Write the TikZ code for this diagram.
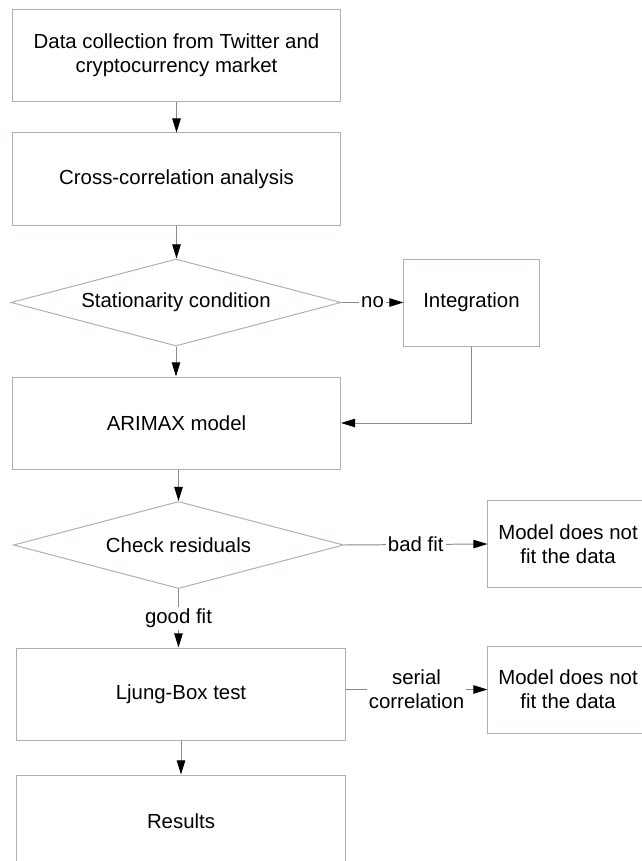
\documentclass[tikz,border=0pt]{standalone}
\usepackage{fontspec}
\setmainfont{Liberation Sans}
\usetikzlibrary{shapes.geometric,arrows.meta}

\definecolor{boxline}{RGB}{168,178,175}
\definecolor{arrline}{RGB}{135,138,137}

\tikzset{
  stepbox/.style={draw=boxline, line width=0.7pt, align=center, inner sep=0pt,
    minimum width=8.2cm, minimum height=2.3cm},
  sidebox/.style={stepbox, minimum width=4cm, minimum height=2.175cm},
  decision/.style={diamond, aspect=3.8, draw=boxline, line width=0.7pt, inner sep=0pt,
    minimum width=8.25cm, minimum height=2.175cm},
  flow/.style={draw=arrline, line width=0.7pt,
    -{Triangle[length=10pt,width=6pt,color=black]}},
  lbl/.style={fill=white, inner sep=1.5pt, align=center}
}

\begin{document}
\begin{tikzpicture}[x=0.025cm, y=-0.025cm,
    every node/.style={font=\fontsize{14.5}{17}\selectfont}]
  \useasboundingbox (0,0) rectangle (641,861);

  % main column
  \node[stepbox] (collect) at (176.5,55.5) {Data collection from Twitter and\\cryptocurrency market};
  \node[stepbox] (xcorr) at (176.5,179) {Cross-correlation analysis};
  \node[decision] (station) at (176,302.5) {Stationarity condition};
  \node[stepbox] (arimax) at (176.5,423) {ARIMAX model};
  \node[decision] (resid) at (178.5,545) {Check residuals};
  \node[stepbox] (ljung) at (181,694) {Ljung-Box test};
  \node[stepbox] (results) at (181,821) {Results};

  % side boxes
  \node[sidebox, minimum width=3.375cm] (integ) at (471.5,302.5) {Integration};
  \node[sidebox] (badfit) at (568,544) {Model does not\\fit the data};
  \node[sidebox] (sercorr) at (568,689.5) {Model does not\\fit the data};

  \draw[flow] (collect) -- (xcorr);
  \draw[flow] (xcorr.south) -- (xcorr.south |- station.north);
  \draw[flow] (station.east) -- node[lbl]{no} (integ.west);
  \draw[flow] (integ.south) |- (arimax.east);
  \draw[flow] (station.south) -- (station.south |- arimax.north);
  \draw[flow] (resid.north |- arimax.south) -- (resid.north);
  \draw[flow] (resid.east) -- node[lbl]{bad fit} (badfit.west);
  \draw[flow] (resid.south) -- node[lbl]{good fit} (resid.south |- ljung.north);
  \draw[flow] (ljung.east |- sercorr.west) -- node[lbl]{serial\\correlation} (sercorr.west);
  \draw[flow] (ljung) -- (results);
\end{tikzpicture}
\end{document}
